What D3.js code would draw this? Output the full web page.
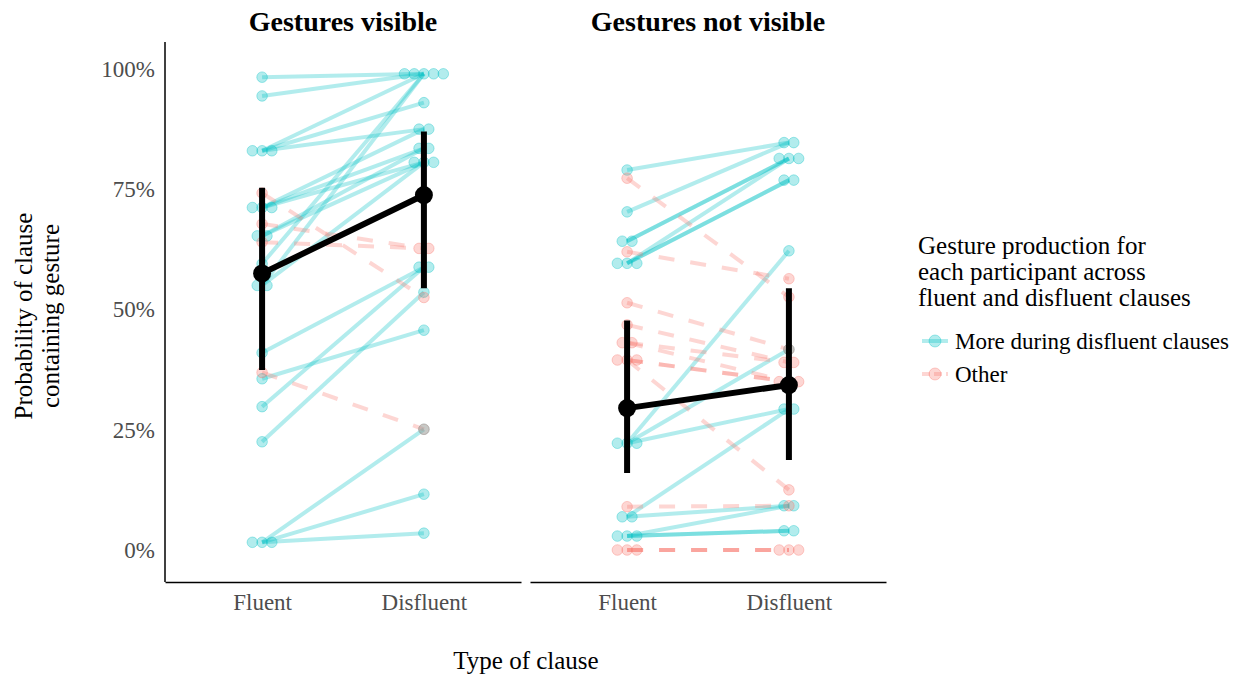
<!DOCTYPE html>
<html>
<head>
<meta charset="utf-8">
<script src="https://cdn.jsdelivr.net/npm/d3@7"></script>
<style>
  body { margin: 0; background: #fff; }
  svg { font-family: 'Liberation Serif', 'Times New Roman', serif; }
</style>
</head>
<body>
<div id="chart"></div>
<script>
const panelTitles = ['Gestures visible', 'Gestures not visible'];
const clauseTypes = ['Fluent', 'Disfluent'];
const yTicks = [0, 25, 50, 75, 100];
const groupNames = ['More during disfluent clauses', 'Other'];

// per participant: % in fluent clauses, % in disfluent clauses, group (0 = more during disfluent, 1 = other)
const visibleFluent = [98.3, 94.4, 83, 83, 83, 71.2, 71.2, 71.2, 65.3, 65.3, 59.5, 55, 55, 41, 35.6, 29.8, 22.5, 1.6, 1.6, 1.6, 74.2, 67.8, 64, 36.9];
const visibleDisfluent = [99, 99, 93, 99, 87.5, 87.5, 83.5, 80.6, 83.5, 80.6, 99, 99, 80.6, 58.8, 45.7, 58.8, 53.6, 25.1, 11.6, 3.5, 52.5, 62.7, 62.7, 25.1];
const visibleGroup = [0, 0, 0, 0, 0, 0, 0, 0, 0, 0, 0, 0, 0, 0, 0, 0, 0, 0, 0, 0, 1, 1, 1, 1];

const hiddenFluent = [79, 70.3, 64.2, 64.2, 59.6, 59.6, 59.6, 22.2, 22.2, 22.2, 6.9, 6.9, 2.9, 2.9, 2.9, 77.3, 62, 51.4, 46.8, 43.1, 43.1, 39.5, 39.5, 39.5, 9, 0, 0, 0];
const hiddenDisfluent = [84.7, 84.7, 81.4, 81.4, 81.4, 76.9, 76.9, 62.2, 41.7, 29.3, 29.3, 9.2, 9.2, 4, 4, 52.6, 56.4, 41.7, 39, 39, 35, 35, 35, 12.5, 9.2, 0, 0, 0];
const hiddenGroup = [0, 0, 0, 0, 0, 0, 0, 0, 0, 0, 0, 0, 0, 0, 0, 1, 1, 1, 1, 1, 1, 1, 1, 1, 1, 1, 1, 1];

// model estimates (mean, lower, upper) for Fluent / Disfluent
const visibleMean = [57.5, 73.8];
const visibleLow = [37.4, 54.4];
const visibleHigh = [75.3, 87];
const hiddenMean = [29.5, 34.3];
const hiddenLow = [16, 18.7];
const hiddenHigh = [47.7, 54.4];

const panels = [
  { title: panelTitles[0], fluent: visibleFluent, disfluent: visibleDisfluent, group: visibleGroup,
    mean: visibleMean, low: visibleLow, high: visibleHigh },
  { title: panelTitles[1], fluent: hiddenFluent, disfluent: hiddenDisfluent, group: hiddenGroup,
    mean: hiddenMean, low: hiddenLow, high: hiddenHigh }
];

const width = 1241;
const height = 675;
const colors = ['#00BFC4', '#F8766D'];
const panelTop = 42;
const panelBottom = 582;
const panelWidth = 356;
const panelLefts = [165, 530];

const svg = d3.select('#chart').append('svg')
  .attr('width', width)
  .attr('height', height)
  .attr('viewBox', `0 0 ${width} ${height}`);

const y = d3.scaleLinear().domain([0, 100]).range([550, 69]);

// y axis (only on first panel)
const yAxis = svg.append('g')
  .attr('transform', `translate(${panelLefts[0]},0)`)
  .call(d3.axisLeft(y).tickValues(yTicks).tickFormat(d => `${d}%`).tickSize(0).tickPadding(10));
yAxis.select('.domain').remove();
yAxis.selectAll('text')
  .attr('fill', '#4d4d4d')
  .style('font-size', '23px')
  .style('font-family', "'Liberation Serif', serif");
svg.append('line')
  .attr('x1', panelLefts[0]).attr('x2', panelLefts[0])
  .attr('y1', panelTop).attr('y2', panelBottom)
  .attr('stroke', '#000').attr('stroke-width', 1.5);

const spacing = 9.7;

panels.forEach((panel, pi) => {
  const left = panelLefts[pi];
  const x = d3.scalePoint().domain(clauseTypes).range([left, left + panelWidth]).padding(0.6);
  const g = svg.append('g');

  // x axis
  const xAxis = g.append('g')
    .attr('transform', `translate(0,${panelBottom})`)
    .call(d3.axisBottom(x).tickSize(0).tickPadding(12));
  xAxis.select('.domain').attr('stroke', '#000').attr('stroke-width', 1.5);
  xAxis.selectAll('text')
    .attr('fill', '#4d4d4d')
    .style('font-size', '23px')
    .style('font-family', "'Liberation Serif', serif");

  // panel title
  g.append('text')
    .attr('x', left + panelWidth / 2)
    .attr('y', 31)
    .attr('text-anchor', 'middle')
    .style('font-size', '28px')
    .style('font-weight', 'bold')
    .text(panel.title);

  const rows = panel.fluent.map((f, i) => ({ f, d: panel.disfluent[i], grp: panel.group[i] }));

  // participant lines
  g.selectAll('line.participant')
    .data(rows)
    .enter().append('line')
    .attr('class', 'participant')
    .attr('x1', x('Fluent'))
    .attr('x2', x('Disfluent'))
    .attr('y1', r => y(r.f))
    .attr('y2', r => y(r.d))
    .attr('stroke', r => colors[r.grp])
    .attr('stroke-opacity', 0.3)
    .attr('stroke-width', 4)
    .attr('stroke-dasharray', r => r.grp === 1 ? '16,16' : null);

  // points, spread sideways where values coincide
  const pts = [];
  clauseTypes.forEach(type => {
    const key = type === 'Fluent' ? 'f' : 'd';
    const clusters = d3.group(rows, r => r.grp, r => r[key]);
    clusters.forEach(byValue => {
      byValue.forEach((members, value) => {
        members.forEach((m, k) => {
          pts.push({ type, value, grp: m.grp, off: (k - (members.length - 1) / 2) * spacing });
        });
      });
    });
  });

  g.selectAll('circle.pt')
    .data(pts)
    .enter().append('circle')
    .attr('class', 'pt')
    .attr('cx', p => x(p.type) + p.off)
    .attr('cy', p => y(p.value))
    .attr('r', 5.3)
    .attr('fill', p => colors[p.grp])
    .attr('fill-opacity', 0.3)
    .attr('stroke', p => colors[p.grp])
    .attr('stroke-opacity', 0.35)
    .attr('stroke-width', 1);

  // estimates
  g.selectAll('line.err')
    .data(clauseTypes)
    .enter().append('line')
    .attr('class', 'err')
    .attr('x1', t => x(t)).attr('x2', t => x(t))
    .attr('y1', (t, i) => y(panel.low[i]))
    .attr('y2', (t, i) => y(panel.high[i]))
    .attr('stroke', '#000')
    .attr('stroke-width', 6);

  g.append('path')
    .datum(clauseTypes)
    .attr('d', d3.line().x(t => x(t)).y((t, i) => y(panel.mean[i])))
    .attr('fill', 'none')
    .attr('stroke', '#000')
    .attr('stroke-width', 6);

  g.selectAll('circle.mean')
    .data(clauseTypes)
    .enter().append('circle')
    .attr('class', 'mean')
    .attr('cx', t => x(t))
    .attr('cy', (t, i) => y(panel.mean[i]))
    .attr('r', 9)
    .attr('fill', '#000');
});

// axis titles
svg.append('text')
  .attr('x', 526)
  .attr('y', 669)
  .attr('text-anchor', 'middle')
  .style('font-size', '25px')
  .text('Type of clause');

const yTitle = svg.append('text')
  .attr('transform', 'translate(0,316) rotate(-90)')
  .attr('text-anchor', 'middle')
  .style('font-size', '25px');
yTitle.append('tspan').attr('x', 0).attr('y', 32).text('Probability of clause');
yTitle.append('tspan').attr('x', 0).attr('y', 59).text('containing gesture');

// legend
const legend = svg.append('g').attr('transform', 'translate(918,0)');
['Gesture production for', 'each participant across', 'fluent and disfluent clauses'].forEach((line, i) => {
  legend.append('text')
    .attr('x', 0)
    .attr('y', 254 + i * 26)
    .style('font-size', '25px')
    .text(line);
});

const keys = legend.selectAll('g.key')
  .data(groupNames)
  .enter().append('g')
  .attr('class', 'key')
  .attr('transform', (d, i) => `translate(0,${341 + i * 33})`);
keys.append('line')
  .attr('x1', 4).attr('x2', 30)
  .attr('stroke', (d, i) => colors[i])
  .attr('stroke-opacity', 0.3)
  .attr('stroke-width', 4)
  .attr('stroke-dasharray', (d, i) => i === 1 ? '8,4' : null);
keys.append('circle')
  .attr('cx', 17).attr('r', 6)
  .attr('fill', (d, i) => colors[i])
  .attr('fill-opacity', 0.3)
  .attr('stroke', (d, i) => colors[i])
  .attr('stroke-opacity', 0.35);
keys.append('text')
  .attr('x', 37)
  .attr('y', 8)
  .style('font-size', '23px')
  .text(d => d);
</script>
</body>
</html>
